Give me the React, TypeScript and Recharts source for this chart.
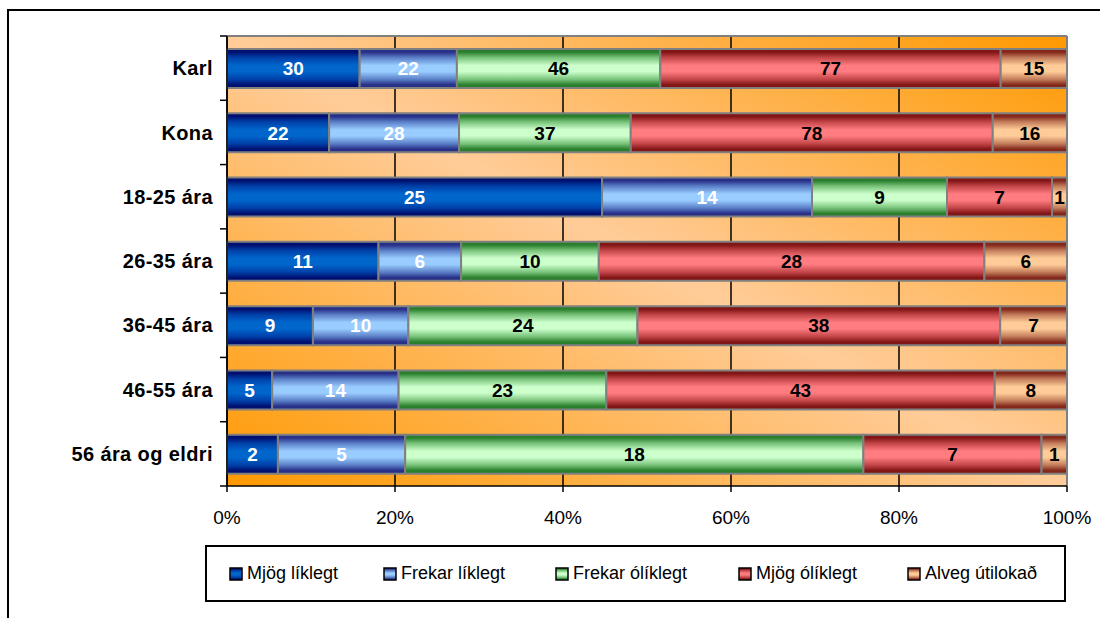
import React from "react";
import { BarChart, Bar, XAxis, YAxis, CartesianGrid, LabelList, ReferenceLine } from "recharts";

// ---- data ----
const categories = ["Karl", "Kona", "18-25 ára", "26-35 ára", "36-45 ára", "46-55 ára", "56 ára og eldri"];
const mjogLiklegt = [30, 22, 25, 11, 9, 5, 2];
const frekarLiklegt = [22, 28, 14, 6, 10, 14, 5];
const frekarOliklegt = [46, 37, 9, 10, 24, 23, 18];
const mjogOliklegt = [77, 78, 7, 28, 38, 43, 7];
const alvegUtilokad = [15, 16, 1, 6, 7, 8, 1];
const seriesNames = ["Mjög líklegt", "Frekar líklegt", "Frekar ólíklegt", "Mjög ólíklegt", "Alveg útilokað"];
const xTicks = [0, 0.2, 0.4, 0.6, 0.8, 1];

const data = categories.map((cat, i) => ({
  cat,
  s0: mjogLiklegt[i],
  s1: frekarLiklegt[i],
  s2: frekarOliklegt[i],
  s3: mjogOliklegt[i],
  s4: alvegUtilokad[i],
}));

// ---- styles ----
const FONT = "'Liberation Sans', Arial, Helvetica, sans-serif";
const W = 1100;
const H = 618;
const MARGIN = { top: 36, right: 33, left: 0, bottom: 92 };
const Y_AXIS_W = 227;
const X_AXIS_H = 40;
const PLOT_H = H - MARGIN.top - MARGIN.bottom - X_AXIS_H;

const seriesStyles = [
  { key: "s0", edge: "#001070", mid: "#0040A8", center: "#0066CC", label: "#FFFFFF" },
  { key: "s1", edge: "#283088", mid: "#5A7EC6", center: "#99CCFF", label: "#FFFFFF" },
  { key: "s2", edge: "#2A7F2D", mid: "#78C27A", center: "#CCFFCC", label: "#000000" },
  { key: "s3", edge: "#821515", mid: "#C24548", center: "#FF7C80", label: "#000000" },
  { key: "s4", edge: "#84281C", mid: "#C27C5A", center: "#FFCC99", label: "#000000" },
];

const legendLefts = [24, 178, 350, 533, 702];

const GradDefs = ({ prefix }: { prefix: string }) => (
  <defs>
    {seriesStyles.map((s) => (
      <linearGradient key={s.key} id={`${prefix}${s.key}`} x1="0" y1="0" x2="0" y2="1">
        <stop offset="0" stopColor={s.edge} />
        <stop offset="0.08" stopColor={s.edge} />
        <stop offset="0.22" stopColor={s.mid} />
        <stop offset="0.42" stopColor={s.center} />
        <stop offset="0.58" stopColor={s.center} />
        <stop offset="0.78" stopColor={s.mid} />
        <stop offset="0.92" stopColor={s.edge} />
        <stop offset="1" stopColor={s.edge} />
      </linearGradient>
    ))}
  </defs>
);

const CatTick = (props: any) => {
  const { x, y, payload, index } = props;
  const half = PLOT_H / categories.length / 2;
  return (
    <g>
      <text
        x={x - 14}
        y={y}
        dy="0.36em"
        textAnchor="end"
        fontFamily={FONT}
        fontWeight="bold"
        fontSize={20}
        letterSpacing={0.4}
        fill="#000"
      >
        {payload.value}
      </text>
      <line x1={x - 7} x2={x} y1={y - half} y2={y - half} stroke="#000" strokeWidth={1.5} />
      {index === categories.length - 1 && (
        <line x1={x - 7} x2={x} y1={y + half} y2={y + half} stroke="#000" strokeWidth={1.5} />
      )}
    </g>
  );
};

export default function App() {
  return (
    <div style={{ position: "relative", width: W, height: H, overflow: "hidden", background: "#fff" }}>
      <style>{"body{margin:0;}"}</style>
      <div
        style={{
          position: "absolute",
          left: 7,
          top: 9,
          width: W + 20,
          height: H + 20,
          border: "2px solid #000",
          boxSizing: "border-box",
        }}
      />
      <div style={{ position: "absolute", left: 0, top: 0 }}>
        <BarChart
          width={W}
          height={H}
          data={data}
          layout="vertical"
          stackOffset="expand"
          margin={MARGIN}
          barSize={39}
        >
          <defs>
            <linearGradient id="bgGrad" x1="1" y1="0" x2="0" y2="1">
              <stop offset="0" stopColor="#FF9900" />
              <stop offset="0.5" stopColor="#FFCC99" />
              <stop offset="1" stopColor="#FF9900" />
            </linearGradient>
          </defs>
          <GradDefs prefix="bar" />
          <CartesianGrid
            fill="url(#bgGrad)"
            fillOpacity={1}
            horizontal={false}
            stroke="#000"
            strokeWidth={1.5}
          />
          <CartesianGrid
            vertical={false}
            horizontalCoordinatesGenerator={(p: any) => [p.offset.top]}
            stroke="#808080"
            strokeWidth={2}
          />
          <XAxis
            type="number"
            domain={[0, 1]}
            ticks={xTicks}
            height={X_AXIS_H}
            tickFormatter={(v: number) => `${Math.round(v * 100)}%`}
            axisLine={{ stroke: "#000", strokeWidth: 1.5 }}
            tickLine={{ stroke: "#000", strokeWidth: 1.5 }}
            tickSize={6}
            tickMargin={19}
            tick={{ fill: "#000", fontSize: 19, fontFamily: FONT }}
            interval={0}
          />
          <YAxis
            type="category"
            dataKey="cat"
            width={Y_AXIS_W}
            axisLine={{ stroke: "#000", strokeWidth: 1.5 }}
            tickLine={false}
            tickSize={0}
            tickMargin={0}
            tick={<CatTick />}
            interval={0}
          />
          {seriesStyles.map((s, i) => (
            <Bar
              key={s.key}
              dataKey={s.key}
              name={seriesNames[i]}
              stackId="a"
              fill={`url(#bar${s.key})`}
              stroke="#808080"
              strokeWidth={2}
              isAnimationActive={false}
            >
              <LabelList
                dataKey={s.key}
                position="center"
                fill={s.label}
                fontSize={19}
                fontWeight="bold"
                fontFamily={FONT}
              />
            </Bar>
          ))}
          <ReferenceLine x={1} stroke="#808080" strokeWidth={2} />
        </BarChart>
      </div>
      <div
        style={{
          position: "absolute",
          left: 205,
          top: 545,
          width: 861,
          height: 57,
          border: "2px solid #000",
          boxSizing: "border-box",
          background: "#fff",
          fontFamily: FONT,
          fontSize: 18,
          color: "#000",
        }}
      >
        {seriesNames.map((name, i) => (
          <div
            key={name}
            style={{
              position: "absolute",
              left: legendLefts[i] - 2,
              top: 0,
              height: 53,
              display: "flex",
              alignItems: "center",
              whiteSpace: "nowrap",
            }}
          >
            <svg width={14} height={14} style={{ marginRight: 4, display: "block" }}>
              <GradDefs prefix={`lg${i}`} />
              <rect
                x={1}
                y={1}
                width={12}
                height={12}
                fill={`url(#lg${i}${seriesStyles[i].key})`}
                stroke="#000"
                strokeWidth={1.5}
              />
            </svg>
            <span>{name}</span>
          </div>
        ))}
      </div>
    </div>
  );
}
